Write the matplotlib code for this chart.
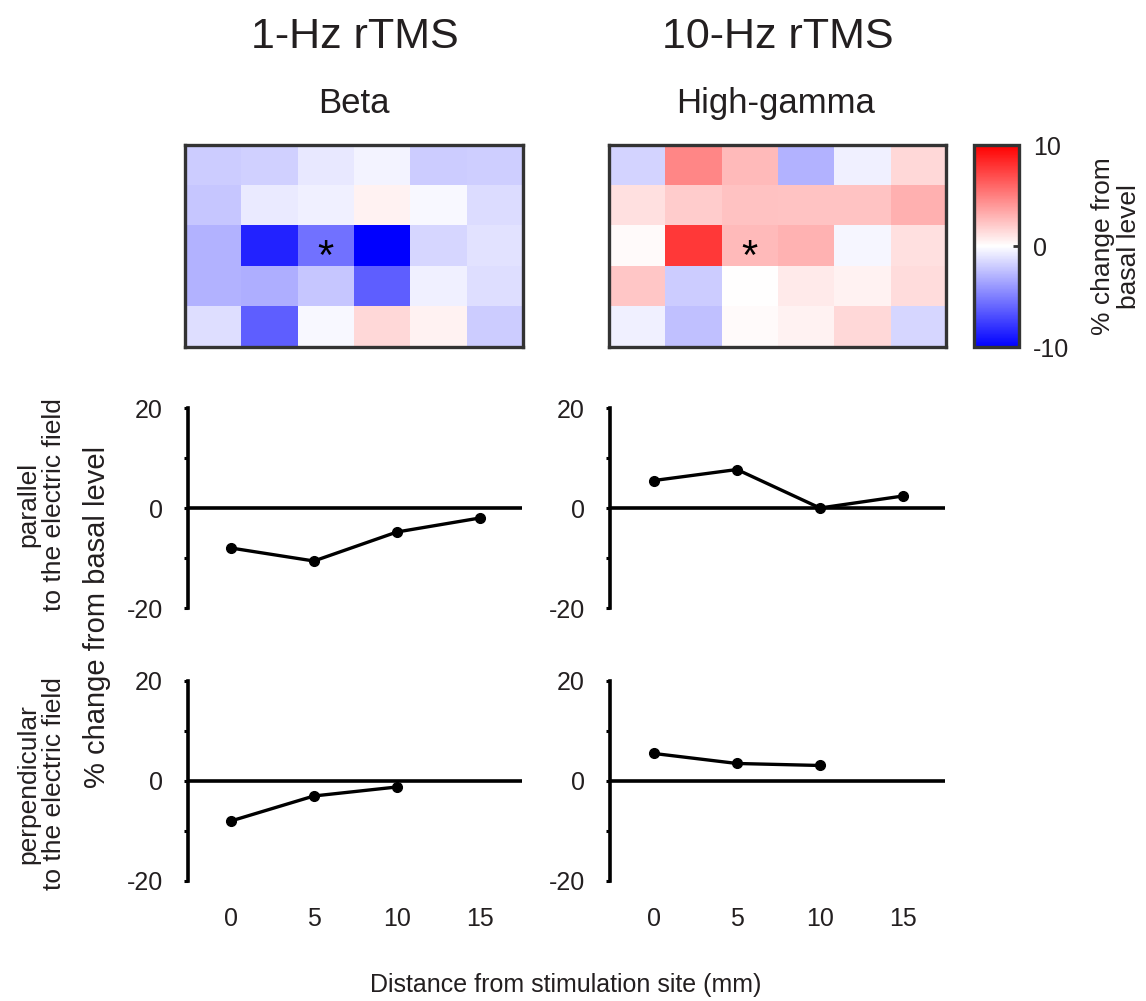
import numpy as np
import matplotlib.pyplot as plt
from matplotlib.ticker import FixedLocator

plt.rcParams['font.family'] = ['Liberation Sans', 'DejaVu Sans']
TXT = '#231f20'

# ---- data ----
# heatmaps: % change from basal level, 5 rows x 6 columns
beta_map = [
    [-2.0, -1.8, -0.9, -0.4, -2.0, -1.9],
    [-2.2, -0.8, -0.6, 0.5, -0.3, -1.4],
    [-3.0, -8.6, -5.5, -10.0, -1.6, -1.1],
    [-3.0, -3.2, -2.2, -6.3, -0.6, -1.3],
    [-1.3, -6.3, -0.3, 1.5, 0.5, -2.0],
]
hg_map = [
    [-1.7, 4.7, 2.7, -3.0, -0.6, 1.5],
    [1.2, 2.0, 2.4, 2.3, 2.3, 3.1],
    [0.2, 7.8, 2.7, 3.0, -0.35, 1.2],
    [2.2, -2.0, 0.0, 0.8, 0.5, 1.4],
    [-0.6, -2.5, 0.2, 0.5, 1.5, -1.6],
]
star_cell = (2, 2)  # (row, col) of the significance mark

distance = [0, 5, 10, 15]
beta_parallel = [-8.0, -10.6, -4.8, -2.0]
hg_parallel = [5.5, 7.7, 0.0, 2.4]
distance_perp = [0, 5, 10]
beta_perp = [-8.0, -3.0, -1.2]
hg_perp = [5.5, 3.5, 3.1]

fig = plt.figure(figsize=(11.46, 10.01), dpi=100)

# ---- heatmaps ----
hm_pos = [[0.1614, 0.6533, 0.2949, 0.2018], [0.5314, 0.6533, 0.2941, 0.2018]]
for pos, data in zip(hm_pos, [beta_map, hg_map]):
    ax = fig.add_axes(pos)
    im = ax.imshow(np.array(data), cmap='bwr', vmin=-10, vmax=10, aspect='auto',
                   interpolation='nearest')
    ax.set_xticks([])
    ax.set_yticks([])
    for s in ax.spines.values():
        s.set_color('#333333')
        s.set_linewidth(2.4)
    ax.text(star_cell[1], star_cell[0] + 0.3, '*', ha='center', va='center',
            fontsize=30, color='black')

cax = fig.add_axes([0.8499, 0.6533, 0.0393, 0.2018])
cb = fig.colorbar(im, cax=cax, ticks=[-10, 0, 10])
cb.outline.set_edgecolor('#333333')
cb.outline.set_linewidth(2.4)
cax.tick_params(direction='in', length=4, width=2, color='#333333',
                labelsize=18, labelcolor=TXT, pad=10)
cax.set_yticklabels(['-10', '0', '10'])
fig.text(0.974, 0.754, '% change from\nbasal level', rotation=90, ha='center',
         va='center', fontsize=19, color=TXT, linespacing=1.1)

# ---- line plots ----
line_pos = {
    (0, 0): [0.1640, 0.3926, 0.2914, 0.1998],
    (0, 1): [0.5323, 0.3926, 0.2923, 0.1998],
    (1, 0): [0.1640, 0.1199, 0.2914, 0.1998],
    (1, 1): [0.5323, 0.1199, 0.2923, 0.1998],
}
xlims = [(-2.59, 17.53), (-2.65, 17.53)]
series = {
    (0, 0): (distance, beta_parallel),
    (0, 1): (distance, hg_parallel),
    (1, 0): (distance_perp, beta_perp),
    (1, 1): (distance_perp, hg_perp),
}
for key, pos in line_pos.items():
    r, c = key
    ax = fig.add_axes(pos)
    ax.axhline(0, color='black', lw=2.6, zorder=1)
    xs, ys = series[key]
    ax.plot(xs, ys, 'k-o', lw=2.4, ms=7, clip_on=False, zorder=3)
    ax.set_xlim(*xlims[c])
    ax.set_ylim(-20, 20)
    for s in ['top', 'right', 'bottom']:
        ax.spines[s].set_visible(False)
    ax.spines['left'].set_linewidth(2.6)
    ax.set_yticks([-20, 0, 20])
    ax.set_yticklabels(['-20', '0', '20'])
    ax.yaxis.set_minor_locator(FixedLocator([-10, 10]))
    ax.tick_params(axis='y', which='both', length=3, width=2.2, pad=15,
                   labelsize=18, labelcolor=TXT)
    ax.set_xticks(distance)
    if r == 1:
        ax.tick_params(axis='x', length=0, pad=19, labelsize=18, labelcolor=TXT)
    else:
        ax.tick_params(axis='x', length=0, labelbottom=False)

# ---- text ----
fig.text(0.310, 0.952, '1-Hz rTMS', ha='center', va='baseline', fontsize=31, color=TXT)
fig.text(0.679, 0.952, '10-Hz rTMS', ha='center', va='baseline', fontsize=31, color=TXT)
fig.text(0.309, 0.887, 'Beta', ha='center', va='baseline', fontsize=25, color=TXT)
fig.text(0.677, 0.887, 'High-gamma', ha='center', va='baseline', fontsize=25, color=TXT)

fig.text(0.036, 0.496, 'parallel\nto the electric field', rotation=90, ha='center',
         va='center', fontsize=19, color=TXT, linespacing=1.1)
fig.text(0.036, 0.217, 'perpendicular\nto the electric field', rotation=90, ha='center',
         va='center', fontsize=19, color=TXT, linespacing=1.1)
fig.text(0.085, 0.384, '% change from basal level', rotation=90, ha='center',
         va='center', fontsize=21, color=TXT)
fig.text(0.494, 0.016, 'Distance from stimulation site (mm)', ha='center',
         va='center', fontsize=18, color=TXT)

fig.savefig('out.png', dpi=100, facecolor='white')
